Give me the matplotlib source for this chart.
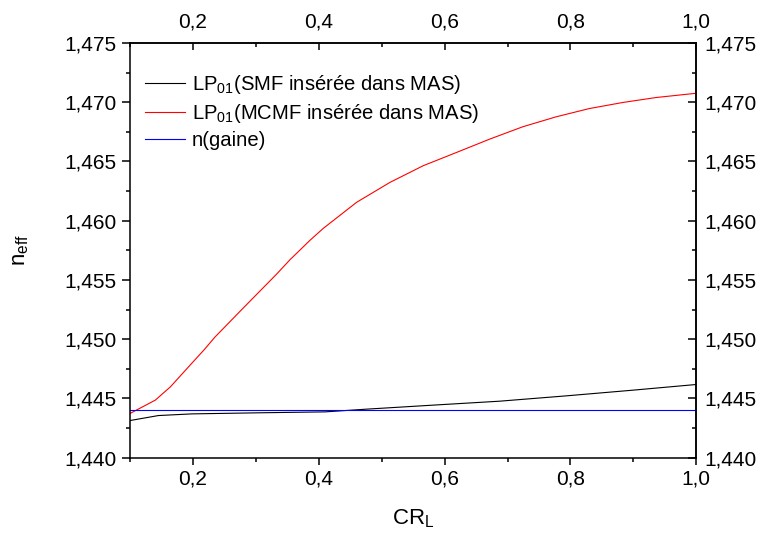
import matplotlib
matplotlib.use("Agg")
import matplotlib.pyplot as plt
from matplotlib.ticker import MultipleLocator, FuncFormatter

plt.rcParams['font.family'] = ['Liberation Sans', 'DejaVu Sans']
plt.rcParams['mathtext.fontset'] = 'custom'
plt.rcParams['mathtext.rm'] = 'Liberation Sans'
plt.rcParams['mathtext.it'] = 'Liberation Sans'

# CR_L values and n_eff
cr_red = [0.100, 0.140, 0.164, 0.198, 0.217, 0.235, 0.275, 0.333, 0.354, 0.386,
          0.407, 0.460, 0.513, 0.566, 0.619, 0.672, 0.724, 0.777, 0.830, 0.883,
          0.936, 1.000]
n_red = [1.44374, 1.44486, 1.44598, 1.44797, 1.44907, 1.45019, 1.45237, 1.45550,
         1.45670, 1.45835, 1.45935, 1.46155, 1.46323, 1.46464, 1.46576, 1.46689,
         1.46792, 1.46876, 1.46946, 1.46997, 1.47039, 1.47075]

cr_black = [0.100, 0.145, 0.198, 0.303, 0.410, 0.476, 0.582, 0.687, 0.793, 0.899, 1.000]
n_black = [1.44314, 1.44356, 1.44370, 1.44379, 1.44387, 1.44410, 1.44444, 1.44477,
           1.44522, 1.44570, 1.44618]

cr_gaine = [0.1, 1.0]
n_gaine = [1.444, 1.444]

labels = [r'LP$_{01}$(SMF insérée dans MAS)',
          r'LP$_{01}$(MCMF insérée dans MAS)',
          'n(gaine)']

fig = plt.figure(figsize=(7.61, 5.36), dpi=100)
ax = fig.add_axes([0.171, 0.146, 0.744, 0.774])

ax.plot(cr_black, n_black, color='black', lw=0.8, label=labels[0])
ax.plot(cr_red, n_red, color='red', lw=0.8, label=labels[1])
ax.plot(cr_gaine, n_gaine, color='blue', lw=0.8, label=labels[2])

ax.set_xlim(0.1, 1.0)
ax.set_ylim(1.440, 1.475)

xfmt = FuncFormatter(lambda v, p: ('%.1f' % v).replace('.', ','))
yfmt = FuncFormatter(lambda v, p: ('%.3f' % v).replace('.', ','))
xticks = [0.2, 0.4, 0.6, 0.8, 1.0]


def style_x(a, direction, pad):
    a.set_xticks(xticks)
    a.xaxis.set_minor_locator(MultipleLocator(0.1))
    a.xaxis.set_major_formatter(xfmt)
    a.tick_params(axis='x', which='major', direction=direction, length=5.2, width=1.1,
                  labelsize=15, pad=pad)
    a.tick_params(axis='x', which='minor', direction=direction, length=3, width=1.1)


def style_y(a, direction, pad):
    a.yaxis.set_major_locator(MultipleLocator(0.005))
    a.yaxis.set_minor_locator(MultipleLocator(0.0025))
    a.yaxis.set_major_formatter(yfmt)
    a.tick_params(axis='y', which='major', direction=direction, length=5.5, width=1.1,
                  labelsize=15, pad=pad)
    a.tick_params(axis='y', which='minor', direction=direction, length=3, width=1.1)


style_x(ax, 'out', 3)
style_y(ax, 'out', 4)

top = ax.secondary_xaxis('top')
style_x(top, 'in', 8.5)
right = ax.secondary_yaxis('right')
style_y(right, 'in', 6)

for s in ax.spines.values():
    s.set_linewidth(1.1)
top.spines['top'].set_linewidth(1.1)
right.spines['right'].set_linewidth(1.1)

ax.set_xlabel(r'CR$_\mathrm{L}$', fontsize=16, labelpad=14)
ax.set_ylabel(r'n$_\mathrm{eff}$', fontsize=16, labelpad=24)

ax.legend(loc='upper left', frameon=False, fontsize=14.6, handlelength=1.95,
          handletextpad=0.35, borderpad=0, borderaxespad=0, labelspacing=0.3,
          bbox_to_anchor=(0.0265, 0.928))

fig.savefig('out.png', dpi=100)
